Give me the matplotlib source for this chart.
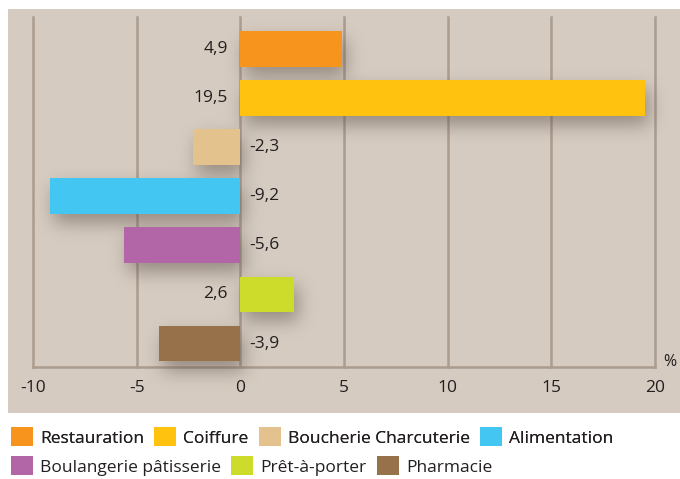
import numpy as np
import matplotlib.pyplot as plt
from matplotlib.patches import Patch

categories = ["Restauration", "Coiffure", "Boucherie Charcuterie", "Alimentation",
              "Boulangerie pâtisserie", "Prêt-à-porter", "Pharmacie"]
values = [4.9, 19.5, -2.3, -9.2, -5.6, 2.6, -3.9]
colors = ["#f7941d", "#ffc20e", "#e3c28e", "#43c6f1", "#b266a8", "#cddc2a", "#967149"]
xticks = [-10, -5, 0, 5, 10, 15, 20]

plt.rcParams['font.family'] = ['Open Sans', 'DejaVu Sans']
bg = "#d5cbc1"
grid_c = "#ab9c8e"
txt_c = "#231f20"
fs = 12.5

fig = plt.figure(figsize=(6.8, 4.79), dpi=100)
# panel in pixels: x 8..680, y 9..413
W, H = 680, 479
ax = fig.add_axes([8 / W, 1 - 413 / H, 672 / W, 404 / H])
ax.set_facecolor(bg)
for s in ax.spines.values():
    s.set_visible(False)
ax.set_xticks([])
ax.set_yticks([])

px = 622 / 30.0   # pixels per x unit
py = 49.1         # pixels per category
x0l, x1l = -10 - 25 / px, 20 + 25 / px
y0l, y1l = -(49 - 9) / py, 6 + (413 - 343.5) / py
ax.set_xlim(x0l, x1l)
ax.set_ylim(y1l, y0l)

y_top, y_bot = -(49 - 17) / py, (367 - 49) / py
for t in xticks:
    ax.plot([t, t], [y_top, y_bot], color=grid_c, lw=1.8, zorder=1)
ax.plot([-10, 20], [y_bot, y_bot], color=grid_c, lw=1.8, zorder=1)

h = 0.73
ys = np.arange(len(values))

# blurred drop shadow built as an image
nx, ny = 672, 404
cols = x0l + (np.arange(nx) + 0.5) / px
rows = y0l + (np.arange(ny) + 0.5) / py
mask = np.zeros((ny, nx))
dx, dy = 4 / px, 9 / py
for y, v in zip(ys, values):
    xa, xb = min(0, v) + dx, max(0, v) + dx
    ya, yb = y - h / 2 + dy, y + h / 2 + dy
    mask[np.ix_((rows >= ya) & (rows <= yb), (cols >= xa) & (cols <= xb))] = 1
sig = 9.0
k = np.exp(-0.5 * (np.arange(-28, 29) / sig) ** 2)
k /= k.sum()
mask = np.apply_along_axis(lambda r: np.convolve(r, k, mode="same"), 1, mask)
mask = np.apply_along_axis(lambda c: np.convolve(c, k, mode="same"), 0, mask)
rgba = np.zeros((ny, nx, 4))
rgba[..., :3] = np.array([0x5a, 0x4c, 0x42]) / 255
rgba[..., 3] = mask * 0.5
ax.imshow(rgba, extent=(x0l, x1l, y1l, y0l), aspect="auto", zorder=2,
          interpolation="bilinear")

ax.barh(ys, values, height=h, color=colors, zorder=3)

for y, v in zip(ys, values):
    lab = f"{v:.1f}".replace(".", ",")
    if v >= 0:
        ax.text(-0.6, y, lab, ha="right", va="center", fontsize=fs, color=txt_c, zorder=4)
    else:
        ax.text(0.45, y, lab, ha="left", va="center", fontsize=fs, color=txt_c, zorder=4)

for t in xticks:
    ax.text(t, (388 - 49) / py, str(t), ha="center", va="center", fontsize=fs, color=txt_c)
ax.text(20.4, (362 - 49) / py, "%", ha="left", va="center", fontsize=fs - 1, color=txt_c)

handles = [Patch(facecolor=c, edgecolor="none") for c in colors]
kw = dict(loc="center left", frameon=False, fontsize=fs, handlelength=1.27,
          handleheight=1.27, handletextpad=0.4, columnspacing=0.6, borderaxespad=0)
leg1 = fig.legend(handles[:4], categories[:4], ncol=4,
                  bbox_to_anchor=(4 / W, 1 - 437 / H), **kw)
leg2 = fig.legend(handles[4:], categories[4:], ncol=3,
                  bbox_to_anchor=(4 / W, 1 - 466 / H), **kw)
fig.add_artist(leg1)
for leg in (leg1, leg2):
    for t in leg.get_texts():
        t.set_color(txt_c)

fig.savefig("out.png", dpi=100, facecolor="white")
